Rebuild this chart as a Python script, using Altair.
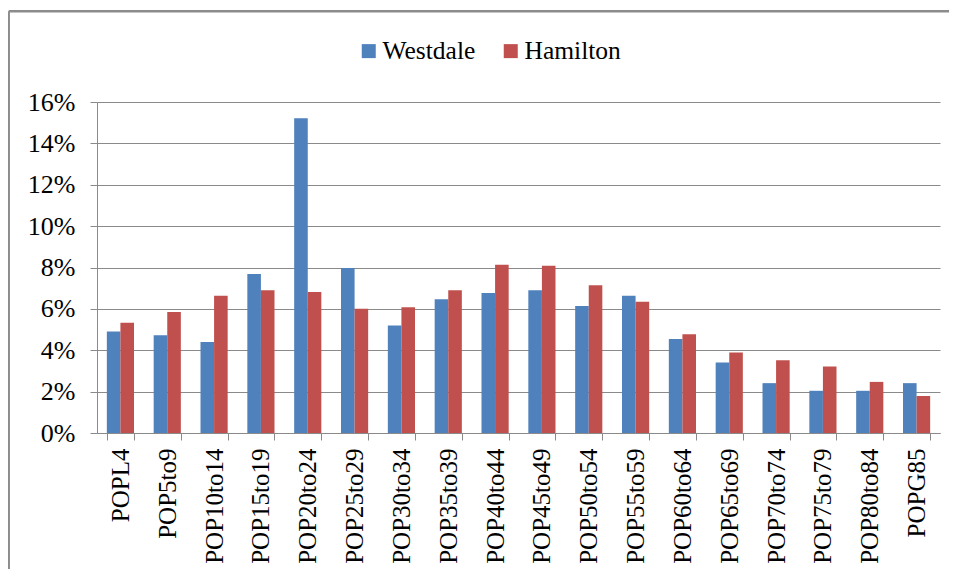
import altair as alt
import pandas as pd

categories = ["POPL4", "POP5to9", "POP10to14", "POP15to19", "POP20to24", "POP25to29",
              "POP30to34", "POP35to39", "POP40to44", "POP45to49", "POP50to54", "POP55to59",
              "POP60to64", "POP65to69", "POP70to74", "POP75to79", "POP80to84", "POPG85"]
westdale = [4.91, 4.72, 4.40, 7.69, 15.22, 7.97, 5.20, 6.46, 6.77, 6.90, 6.14, 6.64,
            4.54, 3.41, 2.41, 2.04, 2.04, 2.41]
hamilton = [5.33, 5.85, 6.64, 6.90, 6.82, 6.01, 6.08, 6.90, 8.13, 8.08, 7.14, 6.34,
            4.77, 3.89, 3.52, 3.22, 2.47, 1.79]
series = ["Westdale", "Hamilton"]
colors = ["#4F81BD", "#C0504D"]

rows = []
for c, w, h in zip(categories, westdale, hamilton):
    rows.append({"cat": c, "series": "Westdale", "value": w / 100})
    rows.append({"cat": c, "series": "Hamilton", "value": h / 100})
df = pd.DataFrame(rows)

W, H = 843, 331
FONT = "Liberation Serif"

bars = alt.Chart(df).mark_bar().encode(
    x=alt.X("cat:N", sort=categories, title=None,
            scale=alt.Scale(paddingInner=0.42, paddingOuter=0.21),
            axis=alt.Axis(labelAngle=-90, labelFont=FONT, labelFontSize=25,
                          labelColor="black", labelPadding=8, tickBand="extent",
                          tickSize=7, tickColor="#8a8a8a", domainColor="#8a8a8a",
                          grid=False)),
    xOffset=alt.XOffset("series:N", sort=series, scale=alt.Scale(paddingInner=0, paddingOuter=0)),
    y=alt.Y("value:Q", title=None,
            scale=alt.Scale(domain=[0, 0.16], nice=False),
            axis=alt.Axis(format=".0%", values=[0, 0.02, 0.04, 0.06, 0.08, 0.10, 0.12, 0.14, 0.16],
                          labelFont=FONT, labelFontSize=26, labelColor="black",
                          labelPadding=15, tickSize=7, tickColor="#8a8a8a",
                          domainColor="#8a8a8a", gridColor="#8a8a8a", gridWidth=1.2)),
    color=alt.Color("series:N", sort=series,
                    scale=alt.Scale(domain=series, range=colors),
                    legend=alt.Legend(title=None, orient="none", direction="horizontal",
                                      legendX=259, legendY=-64, symbolType="square",
                                      symbolSize=196, symbolStrokeWidth=0,
                                      labelFont=FONT, labelFontSize=25.5, labelColor="black",
                                      labelOffset=1, columnPadding=22)),
)

frame_df = pd.DataFrame({"a": [0]})
frame_top = alt.Chart(frame_df).mark_rule(stroke="#8c8c8c", strokeWidth=2.5).encode(
    x=alt.value(-88.3), x2=alt.value(W + 60), y=alt.value(-90.7),
)
frame_left = alt.Chart(frame_df).mark_rule(stroke="#8c8c8c", strokeWidth=2.5).encode(
    x=alt.value(-88.3), y=alt.value(-90.7), y2=alt.value(H + 200),
)

chart = alt.layer(frame_top, frame_left, bars).properties(
    width=W, height=H,
    autosize=alt.AutoSizeParams(type="none"),
    padding={"left": 89, "top": 94, "right": 9, "bottom": 136},
    background="white",
).configure_view(stroke=None)

chart.save("out.html", embed_options={"renderer": "svg", "actions": False})
